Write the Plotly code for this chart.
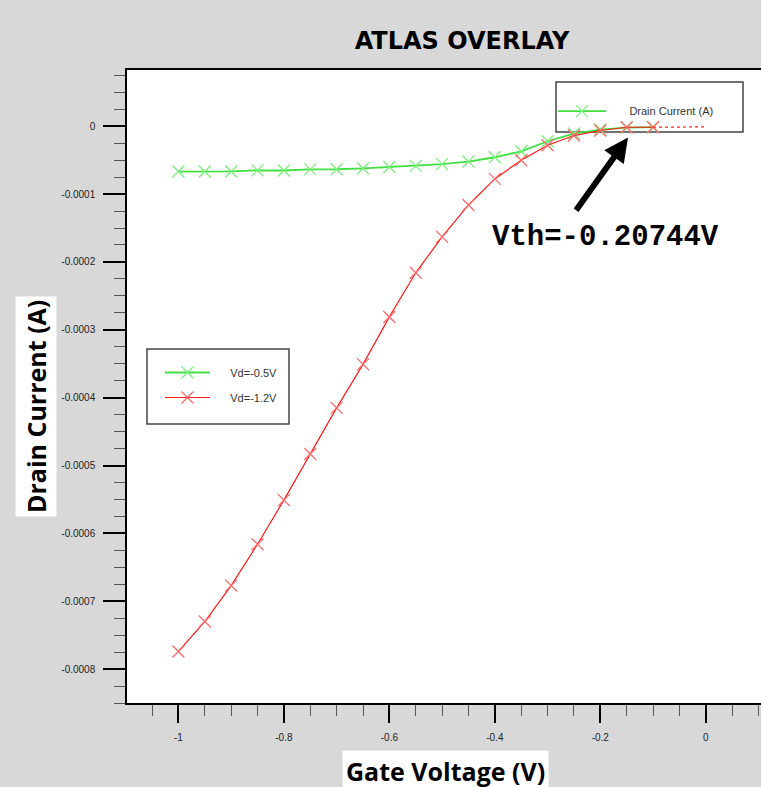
import numpy as np
import plotly.graph_objects as go

# ---------------- data ----------------
vg_green = [-1.0, -0.95, -0.9, -0.85, -0.8, -0.75, -0.7, -0.65, -0.6, -0.55,
            -0.5, -0.45, -0.4, -0.35, -0.3, -0.25, -0.2, -0.15, -0.1]
id_green = [-6.68e-5, -6.68e-5, -6.66e-5, -6.50e-5, -6.52e-5, -6.36e-5, -6.34e-5,
            -6.20e-5, -6.00e-5, -5.84e-5, -5.58e-5, -5.20e-5, -4.57e-5, -3.69e-5,
            -2.21e-5, -1.08e-5, -4.9e-6, -1.9e-6, -1.2e-6]

vg_red = [-1.0, -0.95, -0.9, -0.85, -0.8, -0.75, -0.7, -0.65, -0.6, -0.55,
          -0.5, -0.45, -0.4, -0.35, -0.3, -0.25, -0.2, -0.15, -0.1]
id_red = [-7.74e-4, -7.30e-4, -6.77e-4, -6.16e-4, -5.51e-4, -4.83e-4, -4.15e-4,
          -3.51e-4, -2.81e-4, -2.16e-4, -1.63e-4, -1.16e-4, -7.76e-5, -5.01e-5,
          -2.80e-5, -1.37e-5, -6.3e-6, -1.5e-6, -1.5e-6]

vg_red_tail = [-0.1, 0.0]
id_red_tail = [-1.5e-6, -0.9e-6]

names = ["Vd=-0.5V", "Vd=-1.2V", "Drain Current (A)"]

x_tickvals = [-1.0, -0.8, -0.6, -0.4, -0.2, 0.0]
x_ticktext = ["-1", "-0.8", "-0.6", "-0.4", "-0.2", "0"]
y_tickvals = [0.0, -1e-4, -2e-4, -3e-4, -4e-4, -5e-4, -6e-4, -7e-4, -8e-4]
y_ticktext = ["0", "-0.0001", "-0.0002", "-0.0003", "-0.0004", "-0.0005",
              "-0.0006", "-0.0007", "-0.0008"]

vth_label = "Vth=-0.20744V"
vth_arrow_head = (-0.1475, -1.67e-5)
vth_arrow_tail = (-0.248, -1.26e-4)
vth_text_pos = (-0.191, -1.64e-4)

# ---------------- figure ----------------
GREEN_LINE = "#3fe03f"
GREEN_MK = "#7cf07c"
RED_LINE = "#ff1a1a"
RED_MK = "#ff6a6a"
PAD = "&nbsp;" * 5
PAD2 = "&nbsp;" * 6

fig = go.Figure()

fig.add_trace(go.Scatter(
    x=vg_green, y=id_green, name=PAD + names[0], mode="lines+markers",
    line=dict(color=GREEN_LINE, width=1.8),
    marker=dict(symbol="x-thin", size=12, line=dict(color=GREEN_MK, width=1.3)),
    legend="legend", legendgroup="g1"))

fig.add_trace(go.Scatter(
    x=vg_red, y=id_red, name=PAD + names[1], mode="lines+markers",
    line=dict(color=RED_LINE, width=1.2),
    marker=dict(symbol="x-thin", size=12, line=dict(color=RED_MK, width=1.3)),
    legend="legend", legendgroup="g2"))

fig.add_trace(go.Scatter(
    x=vg_red_tail, y=id_red_tail, mode="lines", showlegend=False,
    line=dict(color=RED_LINE, width=1.2, dash="dot")))

fig.add_trace(go.Scatter(
    x=[None], y=[None], name=PAD2 + names[2], mode="lines+markers",
    line=dict(color=GREEN_LINE, width=1.8),
    marker=dict(symbol="x-thin", size=12, line=dict(color=GREEN_MK, width=1.3)),
    legend="legend2"))

x_minor = list(np.round(np.arange(-1.1, 0.11, 0.05), 3))
y_minor = list(np.round(np.arange(-8.5e-4, 0.9e-4, 0.25e-4), 8))

fig.update_layout(
    width=761, height=787,
    margin=dict(l=127, r=0, t=70, b=84),
    paper_bgcolor="#d8d8d8", plot_bgcolor="white",
    font=dict(family="Liberation Sans, Arial, sans-serif", size=10, color="#222"),
    title=dict(text="<b>ATLAS OVERLAY</b>", x=462 / 761, xanchor="center",
               y=1 - 41 / 787, yanchor="middle",
               font=dict(family="DejaVu Sans", size=24, color="black")),
    xaxis=dict(range=[-1.0975, 0.1047], tickmode="array", tickvals=x_tickvals,
               ticktext=x_ticktext, ticks="outside", ticklen=18, tickwidth=2,
               tickcolor="black", showline=True, linecolor="black", linewidth=1.5,
               mirror=True, showgrid=False, zeroline=False, ticklabelstandoff=6,
               minor=dict(tickmode="array", tickvals=x_minor, ticks="outside",
                          ticklen=11, tickwidth=1, tickcolor="#555", showgrid=False)),
    yaxis=dict(range=[-8.50e-4, 0.829e-4], tickmode="array", tickvals=y_tickvals,
               ticktext=y_ticktext, ticks="outside", ticklen=22, tickwidth=2,
               tickcolor="black", showline=True, linecolor="black", linewidth=1.5,
               showgrid=False, zeroline=False, ticklabelstandoff=6,
               minor=dict(tickmode="array", tickvals=y_minor, ticks="outside",
                          ticklen=11, tickwidth=1, tickcolor="#555", showgrid=False)),
    legend=dict(x=0.052, y=0.545, xanchor="left", yanchor="top",
                bgcolor="rgba(0,0,0,0)", borderwidth=0, tracegroupgap=6,
                itemwidth=45, font=dict(size=11, color="#333")),
    legend2=dict(x=0.672, y=0.958, xanchor="left", yanchor="top",
                 bgcolor="rgba(0,0,0,0)", borderwidth=0,
                 itemwidth=48, font=dict(size=11, color="#333")),
    showlegend=True,
)

# legend frames
fig.add_shape(type="rect", xref="paper", yref="paper", x0=0.0315, x1=0.2555,
              y0=0.4408, y1=0.5592, line=dict(color="#444", width=1.5),
              fillcolor="white", layer="below")
fig.add_shape(type="rect", xref="paper", yref="paper", x0=0.6767, x1=0.9716,
              y0=0.902, y1=0.981, line=dict(color="#444", width=1.5),
              fillcolor="white", layer="below")

# axis titles with white boxes
fig.add_annotation(text="<b>Drain Current (A)</b>", xref="paper", yref="paper",
                   x=(36 - 127) / 634, y=(703 - 407) / 633, textangle=-90,
                   xanchor="center", yanchor="middle",
                   showarrow=False, bgcolor="white", borderpad=3,
                   font=dict(family="Open Sans", size=25, color="black"))
fig.add_annotation(text="<b>Gate Voltage (V)</b>", xref="paper", yref="paper",
                   x=(445 - 127) / 634, y=(703 - 771) / 633,
                   xanchor="center", yanchor="middle",
                   showarrow=False, bgcolor="white", borderpad=3,
                   font=dict(family="Open Sans", size=25, color="black"))

# Vth arrow and label
fig.add_annotation(x=vth_arrow_head[0], y=vth_arrow_head[1], xref="x", yref="y",
                   ax=vth_arrow_tail[0], ay=vth_arrow_tail[1], axref="x", ayref="y",
                   text="", showarrow=True, arrowhead=2, arrowsize=0.8,
                   arrowwidth=6, arrowcolor="black")
fig.add_annotation(x=vth_text_pos[0], y=vth_text_pos[1], xref="x", yref="y",
                   text="<b>" + vth_label + "</b>", showarrow=False,
                   font=dict(family="Liberation Mono", size=29, color="black"))

fig.write_html("out.html", config={"displayModeBar": False},
               post_script="document.body.style.margin='0';"
                           "document.body.style.overflow='hidden';")
